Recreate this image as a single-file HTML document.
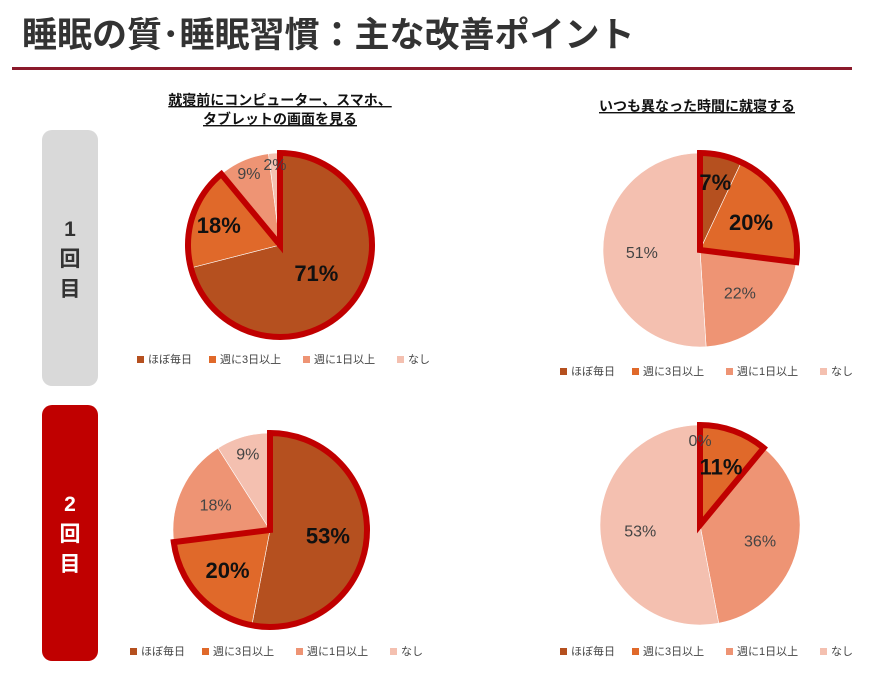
<!DOCTYPE html>
<html><head><meta charset="utf-8">
<style>
body{margin:0;width:893px;height:672px;background:#fff;overflow:hidden;font-family:"Liberation Sans","Noto Sans CJK JP",sans-serif;}
svg text{font-family:"Liberation Sans","Noto Sans CJK JP",sans-serif;}
</style></head><body>
<svg id="chart" width="893" height="672" viewBox="0 0 893 672">
<text x="22" y="47" font-size="35" font-weight="bold" fill="#333">睡眠の質･睡眠習慣：主な改善ポイント</text>
<rect x="12" y="67" width="840" height="3" fill="#8b1a2b"/>
<text x="280" y="105" font-size="14" font-weight="bold" text-anchor="middle" text-decoration="underline" fill="#111">就寝前にコンピューター、スマホ、</text>
<text x="280" y="124" font-size="14" font-weight="bold" text-anchor="middle" text-decoration="underline" fill="#111">タブレットの画面を見る</text>
<text x="697" y="111" font-size="14" font-weight="bold" text-anchor="middle" text-decoration="underline" fill="#111">いつも異なった時間に就寝する</text>
<rect x="42" y="130" width="56" height="256" rx="10" fill="#d9d9d9"/>
<text x="70" y="236" font-size="21" font-weight="bold" text-anchor="middle" fill="#333"><tspan x="70">1</tspan><tspan x="70" dy="30">回</tspan><tspan x="70" dy="30">目</tspan></text>
<rect x="42" y="405" width="56" height="256" rx="10" fill="#c00000"/>
<text x="70" y="511" font-size="21" font-weight="bold" text-anchor="middle" fill="#fff"><tspan x="70">2</tspan><tspan x="70" dy="30">回</tspan><tspan x="70" dy="30">目</tspan></text>
</svg>
<script>
const categories=["ほぼ毎日","週に3日以上","週に1日以上","なし"];
const screen1=[71,18,9,2];
const bedtime1=[7,20,22,51];
const screen2=[53,20,18,9];
const bedtime2=[0,11,36,53];
const colors=["#b5501f","#e0692a","#ee9474","#f4c0b0"];
const NS="http://www.w3.org/2000/svg";
const svg=document.getElementById('chart');
function mk(t,a){const e=document.createElementNS(NS,t);for(const k in a)e.setAttribute(k,a[k]);svg.appendChild(e);return e;}
function pt(cx,cy,r,f){const a=f*2*Math.PI;return [cx+r*Math.sin(a),cy-r*Math.cos(a)];}
function wedge(cx,cy,r,f0,f1){const p0=pt(cx,cy,r,f0),p1=pt(cx,cy,r,f1);const large=(f1-f0)>0.5?1:0;
 return `M${cx},${cy}L${p0[0]},${p0[1]}A${r},${r} 0 ${large} 1 ${p1[0]},${p1[1]}Z`;}
function pie(name,vals,cx,cy,r,hl,labelR,lx,ly){
 const tot=vals.reduce((a,b)=>a+b,0);let acc=0;
 vals.forEach((v,i)=>{const f0=acc/tot,f1=(acc+v)/tot;acc+=v;
  if(v>0){const p=mk('path',{d:wedge(cx,cy,r,f0,f1),fill:colors[i],stroke:'#fff','stroke-width':0.6});
   
   }
 });
 let hs=0;for(let i=0;i<hl;i++)hs+=vals[i];
 const o=mk('path',{d:wedge(cx,cy,r,0,hs/tot),fill:'none',stroke:'#c00000','stroke-width':6,'stroke-linejoin':'miter'});
 
 
 acc=0;
 vals.forEach((v,i)=>{const fm=(acc+v/2)/tot;acc+=v;
  const bold=i<hl&&v>0;const rr=r*(labelR[i]||0.62);const p=pt(cx,cy,rr,fm);
  const t=mk('text',{x:p[0],y:p[1]+ (bold?8:6),'text-anchor':'middle','font-size':bold?22:16,'font-weight':bold?'bold':'normal',fill:bold?'#111':'#444'});
  t.textContent=v+'%';
  
  
 });
 let x=lx;
 categories.forEach((c,i)=>{const s=mk('rect',{x:x,y:ly-7,width:7,height:7,fill:colors[i]});
  
  
  const t=mk('text',{x:x+11,y:ly,'font-size':11,fill:'#444'});t.textContent=c;
  
  
  x+=11+c.length*11+17;});
}
pie('screen-round1',screen1,280,245,92,2,[0.5,0.7,0.85,0.88],137,363);
pie('bedtime-round1',bedtime1,700,250,97,2,[0.72,0.6,0.6,0.6],560,375);
pie('screen-round2',screen2,270,530,97,2,[0.6,0.6,0.62,0.82],130,655);
pie('bedtime-round2',bedtime2,700,525,100,2,[0.85,0.62,0.62,0.6],560,655);
</script>
</body></html>
